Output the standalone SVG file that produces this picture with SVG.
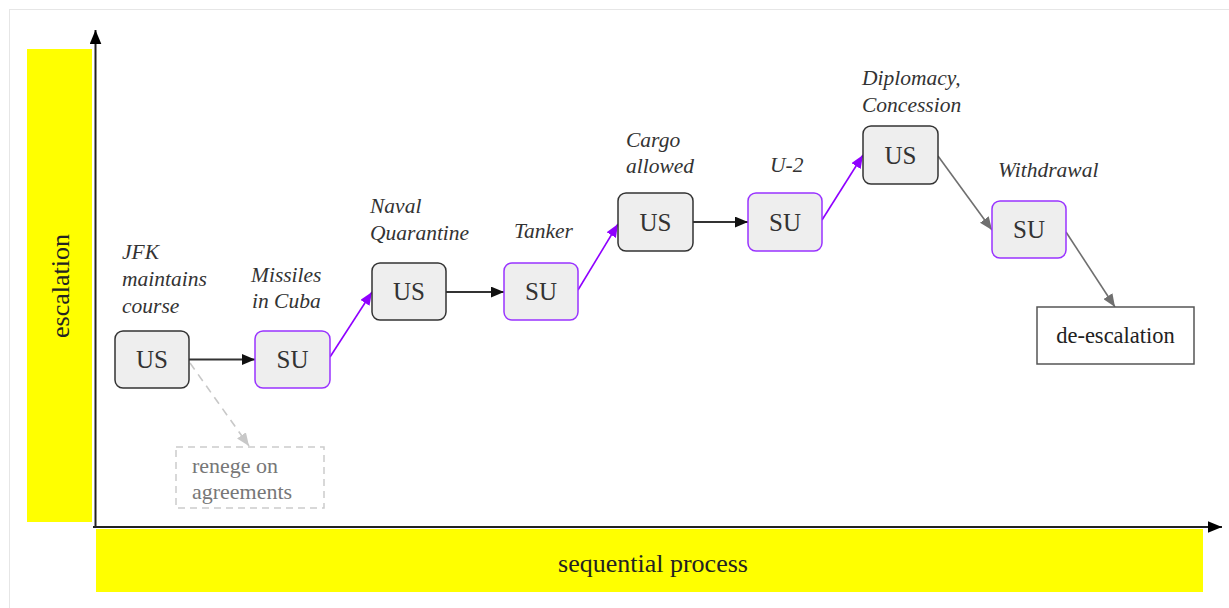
<svg xmlns="http://www.w3.org/2000/svg" width="1229" height="608" viewBox="0 0 1229 608">
  <defs>
    <style>
      .frame { fill: #ffffff; stroke: #e6e6e6; stroke-width: 1; }
      .band { fill: #ffff00; }
      .axis { stroke: #222222; stroke-width: 2; fill: none; }
      text { font-family: 'Liberation Serif', 'Times New Roman', Tinos, 'DejaVu Serif', serif; }
      .axis-label { font-size: 26px; fill: #222222; }
      .node-us { fill: #eeeeee; stroke: #333333; stroke-width: 1.5; }
      .node-su { fill: #eeeeee; stroke: #9933ff; stroke-width: 1.5; }
      .node-text { font-size: 25px; fill: #333333; text-anchor: middle; }
      .caption { font-style: italic; font-size: 21.5px; fill: #333333; }
      .end-box { fill: #ffffff; stroke: #555555; stroke-width: 1.5; }
      .end-text { font-size: 22.5px; fill: #222222; text-anchor: middle; }
      .alt-box { fill: #ffffff; stroke: #cccccc; stroke-width: 1.5; stroke-dasharray: 7 5; }
      .alt-text { font-size: 22px; fill: #777777; }
      .edge-black { stroke: #333333; stroke-width: 2; fill: none; marker-end: url(#head-black); }
      .edge-purple { stroke: #8f00ff; stroke-width: 1.6; fill: none; marker-end: url(#head-purple); }
      .edge-gray { stroke: #6f6f6f; stroke-width: 1.6; fill: none; marker-end: url(#head-gray); }
      .edge-dashed { stroke: #c8c8c8; stroke-width: 1.6; fill: none; stroke-dasharray: 8 6; marker-end: url(#head-light); }
    </style>
    <marker id="head-black" viewBox="0 0 12 10" refX="12" refY="5" markerWidth="13" markerHeight="11" markerUnits="userSpaceOnUse" orient="auto">
      <path d="M0,0 L12,5 L0,10 z" fill="#111111"/>
    </marker>
    <marker id="head-purple" viewBox="0 0 12 10" refX="12" refY="5" markerWidth="13" markerHeight="11" markerUnits="userSpaceOnUse" orient="auto">
      <path d="M0,0 L12,5 L0,10 z" fill="#8f00ff"/>
    </marker>
    <marker id="head-gray" viewBox="0 0 12 10" refX="12" refY="5" markerWidth="13" markerHeight="11" markerUnits="userSpaceOnUse" orient="auto">
      <path d="M0,0 L12,5 L0,10 z" fill="#6f6f6f"/>
    </marker>
    <marker id="head-light" viewBox="0 0 12 10" refX="12" refY="5" markerWidth="13" markerHeight="11" markerUnits="userSpaceOnUse" orient="auto">
      <path d="M0,0 L12,5 L0,10 z" fill="#c8c8c8"/>
    </marker>
    <marker id="head-axis" viewBox="0 0 12 10" refX="12" refY="5" markerWidth="14" markerHeight="12" markerUnits="userSpaceOnUse" orient="auto">
      <path d="M0,0 L12,5 L0,10 z" fill="#000000"/>
    </marker>
  </defs>

  <!-- page frame -->
  <rect class="frame" x="9.5" y="9.5" width="1230" height="610"/>

  <!-- axis bands -->
  <g id="axis-y">
    <rect class="band" x="27" y="49" width="65" height="473"/>
    <text class="axis-label" transform="translate(69,286) rotate(-90)" text-anchor="middle">escalation</text>
    <line class="axis" x1="95.5" y1="527" x2="95.5" y2="30" marker-end="url(#head-axis)"/>
  </g>
  <g id="axis-x">
    <rect class="band" x="96" y="529" width="1107" height="63"/>
    <text class="axis-label" x="653" y="572" text-anchor="middle">sequential process</text>
    <line class="axis" x1="93" y1="527" x2="1222" y2="527" marker-end="url(#head-axis)"/>
  </g>

  <!-- connectors -->
  <g id="connectors">
    <line class="edge-black" x1="189" y1="359.5" x2="255" y2="359.5"/>
    <line class="edge-dashed" x1="190" y1="363" x2="249" y2="446"/>
    <line class="edge-purple" x1="330" y1="357" x2="372" y2="292"/>
    <line class="edge-black" x1="446" y1="292" x2="504" y2="292"/>
    <line class="edge-purple" x1="578" y1="290" x2="618" y2="224"/>
    <line class="edge-black" x1="693" y1="222" x2="748" y2="222"/>
    <line class="edge-purple" x1="822" y1="220" x2="863" y2="155"/>
    <line class="edge-gray" x1="938" y1="156" x2="992" y2="230"/>
    <line class="edge-gray" x1="1066" y1="232" x2="1115" y2="307"/>
  </g>

  <!-- steps -->
  <g id="step-jfk">
    <text class="caption" x="122" y="259">JFK</text>
    <text class="caption" x="122" y="286">maintains</text>
    <text class="caption" x="122" y="313">course</text>
    <rect class="node-us" x="115" y="331" width="74" height="57" rx="8"/>
    <text class="node-text" x="152" y="368">US</text>
  </g>
  <g id="step-missiles">
    <text class="caption" x="251" y="282">Missiles</text>
    <text class="caption" x="252" y="308">in Cuba</text>
    <rect class="node-su" x="255" y="331" width="75" height="57" rx="8"/>
    <text class="node-text" x="292.5" y="368">SU</text>
  </g>
  <g id="step-quarantine">
    <text class="caption" x="370" y="213">Naval</text>
    <text class="caption" x="370" y="240">Quarantine</text>
    <rect class="node-us" x="372" y="263" width="74" height="57" rx="8"/>
    <text class="node-text" x="409" y="300">US</text>
  </g>
  <g id="step-tanker">
    <text class="caption" x="514" y="238">Tanker</text>
    <rect class="node-su" x="504" y="263" width="74" height="57" rx="8"/>
    <text class="node-text" x="541" y="300">SU</text>
  </g>
  <g id="step-cargo">
    <text class="caption" x="626" y="147">Cargo</text>
    <text class="caption" x="626" y="173">allowed</text>
    <rect class="node-us" x="618" y="193" width="75" height="58" rx="8"/>
    <text class="node-text" x="655.5" y="230.5">US</text>
  </g>
  <g id="step-u2">
    <text class="caption" x="770" y="172">U-2</text>
    <rect class="node-su" x="748" y="193" width="74" height="58" rx="8"/>
    <text class="node-text" x="785" y="230.5">SU</text>
  </g>
  <g id="step-diplomacy">
    <text class="caption" x="862" y="85">Diplomacy,</text>
    <text class="caption" x="862" y="112">Concession</text>
    <rect class="node-us" x="863" y="126" width="75" height="58" rx="8"/>
    <text class="node-text" x="900.5" y="163.5">US</text>
  </g>
  <g id="step-withdrawal">
    <text class="caption" x="998" y="177">Withdrawal</text>
    <rect class="node-su" x="992" y="201" width="74" height="57" rx="8"/>
    <text class="node-text" x="1029" y="238">SU</text>
  </g>
  <g id="step-deescalation">
    <rect class="end-box" x="1037" y="307" width="157" height="57"/>
    <text class="end-text" x="1115.5" y="343">de-escalation</text>
  </g>
  <g id="step-renege">
    <rect class="alt-box" x="176" y="447" width="148" height="61"/>
    <text class="alt-text" x="192" y="473">renege on</text>
    <text class="alt-text" x="192" y="499">agreements</text>
  </g>
</svg>
